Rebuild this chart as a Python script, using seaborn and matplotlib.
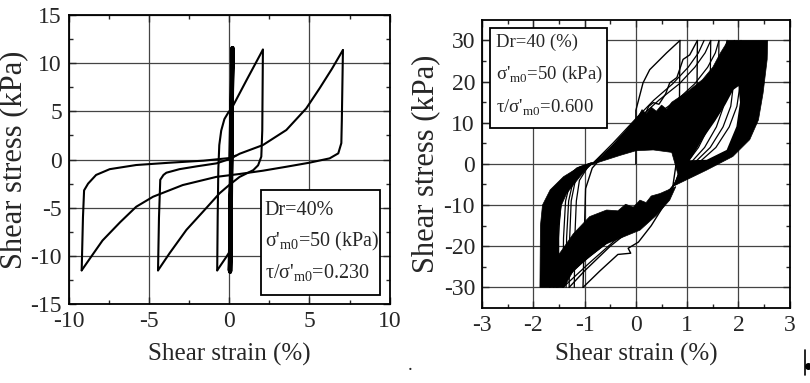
import numpy as np
import seaborn as sns
import matplotlib.pyplot as plt
import matplotlib.patches as patches
from matplotlib.lines import Line2D

# ---------------- left panel: tau/sigma = 0.230 ----------------
bar_x = [0.05, 0.2, 0.03, 0.22, 0.06, 0.18, 0.02, 0.21, 0.08, 0.19, 0.04, 0.2]
bar_y = [0.0, 11.5, -11.6, 11.6, -11.7, 11.5, -11.5, 11.4, -11.6, 11.6, -11.4, 11.5]

a_x = [0.2, 0.12, 0.05, -0.18, -0.75]
a_y = [11.5, 0.0, -9.5, -10.1, -11.5]
b_x = [-0.75, -0.72, -0.68, -0.62, -0.5, -0.3, -0.05, 0.15, 1.1, 2.1]
b_y = [-11.5, -6.0, -1.0, 1.5, 3.0, 4.2, 4.9, 5.3, 8.3, 11.4]
c_x = [2.1, 2.06, 2.0, 1.8, 1.5, 0.65, 0.03, -0.6, -1.63, -2.67, -3.71, -4.44]
c_y = [11.4, 3.0, 0.3, -0.6, -1.1, -1.8, -2.6, -3.5, -5.4, -7.3, -9.7, -11.5]
d_x = [-4.44, -4.38, -4.3, -4.1, -3.92, -3.1, -2.0, -0.8, 0.03, 0.65, 2.1, 3.56, 4.8, 5.64, 6.4, 7.09]
d_y = [-11.5, -6.0, -2.1, -1.6, -1.37, -1.0, -0.7, -0.4, 0.05, 0.6, 1.5, 3.06, 5.3, 7.4, 9.4, 11.36]
e_x = [7.09, 7.02, 6.99, 6.8, 6.26, 5.0, 3.56, 2.1, 0.65, -0.8, -2.9, -4.75, -5.8, -6.8, -7.9, -8.7, -9.2]
e_y = [11.36, 4.0, 1.7, 0.64, 0.12, -0.33, -0.75, -1.16, -1.5, -1.8, -2.65, -3.86, -4.9, -6.5, -8.4, -10.3, -11.5]
f_x = [-9.2, -9.12, -9.05, -8.8, -8.3, -7.45, -5.8, -3.7, -1.6, 0.0, 0.4]
f_y = [-11.5, -6.0, -3.2, -2.5, -1.6, -1.0, -0.57, -0.33, -0.12, 0.15, 0.4]

left_xticks = [-10, -5, 0, 5, 10]
left_yticks = [-15, -10, -5, 0, 5, 10, 15]
left_box = ['Dr=40%', "σ'$_\\mathregular{m0}$=50 (kPa)", "τ/σ'$_\\mathregular{m0}$=0.230"]

# ---------------- right panel: tau/sigma = 0.600 ----------------
# dense black bands
u_x = [-0.9, -0.7, -0.45, -0.2, 0.05, 0.12, 0.2, 0.3, 0.4, 0.5, 0.6, 0.7, 1.0, 1.3, 1.5, 1.65, 1.8,
       2.57, 2.56, 2.48, 2.39, 2.22, 1.89, 1.38, 0.75, 0.82, 0.7, 0.34, 0.0, -0.3, -0.6]
u_y = [-0.3, 1.2, 4.5, 8.0, 11.5, 13.2, 12.2, 13.8, 12.8, 14.3, 13.3, 15.0, 17.5, 20.5, 23.5, 27.0, 30.0,
       30.0, 25.4, 17.2, 10.7, 5.9, 1.8, -1.5, -5.3, -2.5, 2.8, 3.4, 3.2, 2.1, 0.9]
l_x = [-0.85, -1.09, -1.41, -1.67, -1.82, -1.86, -1.87, -1.40, -1.22, -0.9, -0.57, 0.08, 0.4, 0.66, 0.78,
       0.47, 0.3, 0.2, 0.08, -0.05, -0.2, -0.35, -0.57, -0.9, -1.22, -1.5, -1.5, -1.45, -1.35, -1.09]
l_y = [0.3, -0.65, -3.1, -6.3, -10.0, -15.0, -30.0, -30.0, -26.0, -22.5, -19.4, -16.1, -12.5, -8.8, -5.5,
       -7.2, -7.8, -9.4, -8.8, -10.5, -9.8, -11.4, -11.2, -12.8, -17.0, -22.0, -15.0, -10.0, -7.2, -3.1]
lens_x = [1.05, 1.38, 1.77, 1.96, 2.03, 2.0, 1.9, 1.75, 1.55, 1.3, 1.1]
lens_y = [0.9, 1.0, 3.4, 9.1, 15.0, 18.9, 18.0, 14.5, 10.5, 6.0, 1.8]

# single branches that stand out
r1_x = [0.0, 0.0, 0.0, 0.14, 0.27, 0.6, 0.86]
r1_y = [0.0, 6.0, 13.0, 19.7, 22.9, 27.0, 30.0]
r2_x = [0.86, 0.85, 0.82, 0.72, 0.55, 0.3, 0.05, -0.15, -0.1, -0.35, -0.7, -1.03]
r2_y = [30.0, 15.0, 3.0, -5.5, -10.0, -15.0, -19.0, -20.5, -21.7, -22.0, -26.0, -30.0]
r3_x = [-1.03, -1.0, -0.98, -0.85, -0.6, -0.3, -0.05, 0.1, 0.18, 0.25, 0.34, 0.45, 0.58, 0.66, 0.8, 0.92, 1.05, 1.2]
r3_y = [-30.0, -15.0, -6.0, -1.0, 2.5, 6.5, 10.0, 12.4, 12.0, 14.0, 14.9, 14.5, 17.0, 19.7, 21.0, 25.4, 26.5, 30.0]
r4_x = [1.2, 1.19, 1.12, 0.92, 0.75, 0.45, 0.05, -0.5, -1.0, -1.3]
r4_y = [30.0, 15.0, 5.0, -1.0, -5.0, -10.0, -14.5, -20.0, -26.0, -30.0]

# unloading branches through the lens
ul_y = [30.0, 20.0, 14.0, 9.0, 4.0, 0.0, -5.0]
ul_x = [[1.46, 1.45, 1.40, 1.28, 1.10, 0.92, 0.75],
        [1.62, 1.61, 1.55, 1.42, 1.22, 0.98, 0.75],
        [1.78, 1.77, 1.71, 1.57, 1.34, 1.05, 0.76],
        [1.92, 1.91, 1.85, 1.70, 1.45, 1.12, 0.77],
        [2.05, 2.04, 1.97, 1.82, 1.56, 1.20, 0.78]]
# loading branches above the upper band
ld_y = [0.0, 5.0, 11.0, 15.5, 19.5, 23.5, 27.0, 30.0]
ld_x = [[-0.85, -0.45, 0.0, 0.35, 0.72, 1.02, 1.22, 1.33],
        [-0.85, -0.4, 0.05, 0.45, 0.85, 1.15, 1.35, 1.46],
        [-0.85, -0.3, 0.3, 0.8, 1.15, 1.4, 1.55, 1.62],
        [-0.85, -0.2, 0.5, 1.0, 1.35, 1.58, 1.72, 1.78]]
# loading branches from the troughs (left hatch)
lt_y = [-30.0, -18.0, -9.0, -4.0, -1.0, 0.2]
lt_x = [[-1.2, -1.19, -1.16, -1.1, -0.95, -0.84],
        [-1.3, -1.29, -1.26, -1.18, -1.0, -0.85],
        [-1.36, -1.35, -1.31, -1.22, -1.02, -0.85],
        [-1.42, -1.41, -1.37, -1.27, -1.05, -0.86],
        [-1.52, -1.51, -1.46, -1.35, -1.1, -0.87],
        [-1.6, -1.59, -1.54, -1.42, -1.15, -0.88]]
# unloading branches below the lower band
dl_y = [-5.0, -9.0, -13.5, -18.5, -24.0, -30.0]
dl_x = [[0.75, 0.5, 0.1, -0.4, -0.9, -1.42],
        [0.75, 0.48, 0.02, -0.5, -1.05, -1.55],
        [0.75, 0.46, -0.05, -0.6, -1.2, -1.68]]

right_xticks = [-3, -2, -1, 0, 1, 2, 3]
right_yticks = [-30, -20, -10, 0, 10, 20, 30]
right_box = ['Dr=40 (%)', "σ'$_\\mathregular{m0}$=50 (kPa)", "τ/σ'$_\\mathregular{m0}$=0.600"]

sns.set_style('ticks')
plt.rcParams['font.family'] = ['Liberation Serif', 'DejaVu Serif']
plt.rcParams['mathtext.fontset'] = 'custom'
plt.rcParams['mathtext.rm'] = 'Liberation Serif'
plt.rcParams['axes.linewidth'] = 1.3
plt.rcParams['axes.unicode_minus'] = False


def curve(ax, x, y, lw):
    sns.lineplot(x=x, y=y, sort=False, estimator=None, color='black', lw=lw, ax=ax)


def style(ax, xticks, yticks, xminor, yminor, ylab_x, xlab_y):
    ax.set_xticks(xticks)
    ax.set_yticks(yticks)
    ax.set_xticks(xminor, minor=True)
    ax.set_yticks(yminor, minor=True)
    ax.tick_params(which='both', direction='in', top=True, right=True, labelsize=17, width=1.0)
    ax.tick_params(which='major', length=5, pad=5)
    ax.tick_params(which='minor', length=3)
    ax.grid(True, which='major', color='#444444', lw=0.9)
    ax.set_axisbelow(True)
    for s in ax.spines.values():
        s.set_color('black')
    ax.set_xlabel('Shear strain (%)', fontsize=18)
    ax.set_ylabel('Shear stress (kPa)', fontsize=22)
    ax.yaxis.set_label_coords(ylab_x, 0.5)
    ax.xaxis.set_label_coords(0.5, xlab_y)


fig = plt.figure(figsize=(8.1, 3.83), dpi=100)

ax1 = fig.add_axes([0.085, 0.206, 0.396, 0.755])
curve(ax1, bar_x, bar_y, 2.6)
for bx, by in [(a_x, a_y), (b_x, b_y), (c_x, c_y), (d_x, d_y), (e_x, e_y), (f_x, f_y)]:
    curve(ax1, bx, by, 1.5)
ax1.set_xlim(-10, 10)
ax1.set_ylim(-15, 15)
style(ax1, left_xticks, left_yticks, np.arange(-7.5, 10, 5), np.arange(-12.5, 15, 5), -0.128, -0.135)
ax1.add_patch(patches.Rectangle((0.598, 0.031), 0.371, 0.363, transform=ax1.transAxes,
                                facecolor='white', edgecolor='black', lw=1.3, zorder=5))
for txt, ty in zip(left_box, [0.325, 0.215, 0.105]):
    ax1.text(0.61, ty, txt, transform=ax1.transAxes, fontsize=14.5, va='center', zorder=6)

ax2 = fig.add_axes([0.595, 0.196, 0.380, 0.752])
ax2.fill(u_x, u_y, color='black', lw=0.5, zorder=2)
ax2.fill(l_x, l_y, color='black', lw=0.5, zorder=2)
ax2.fill(lens_x, lens_y, color='white', lw=0, zorder=2.5)
for bx, by in [(r1_x, r1_y), (r2_x, r2_y), (r3_x, r3_y), (r4_x, r4_y)]:
    curve(ax2, bx, by, 1.0)
for xs in ul_x:
    curve(ax2, xs, ul_y, 0.9)
for xs in ld_x:
    curve(ax2, xs, ld_y, 0.9)
for xs in lt_x:
    curve(ax2, xs, lt_y, 0.9)
for xs in dl_x:
    curve(ax2, xs, dl_y, 0.9)
for ln in ax2.get_lines():
    ln.set_zorder(3)
ax2.set_xlim(-3, 3)
ax2.set_ylim(-35, 35)
style(ax2, right_xticks, right_yticks, np.arange(-2.5, 3, 1), np.arange(-25, 35, 10), -0.136, -0.12)
ax2.add_patch(patches.Rectangle((0.026, 0.625), 0.38, 0.347, transform=ax2.transAxes,
                                facecolor='white', edgecolor='black', lw=1.3, zorder=5))
for txt, ty in zip(right_box, [0.922, 0.812, 0.695]):
    ax2.text(0.045, ty, txt, transform=ax2.transAxes, fontsize=13.5, va='center', zorder=6)

# scan marks at the bottom
fig.text(0.503, 0.035, '.', fontsize=14)
fig.add_artist(Line2D([0.994, 0.994], [0.02, 0.085], color='black', lw=1.2))
fig.add_artist(Line2D([0.998], [0.045], marker='o', ms=4, color='black'))

fig.savefig('out.png', dpi=100)
